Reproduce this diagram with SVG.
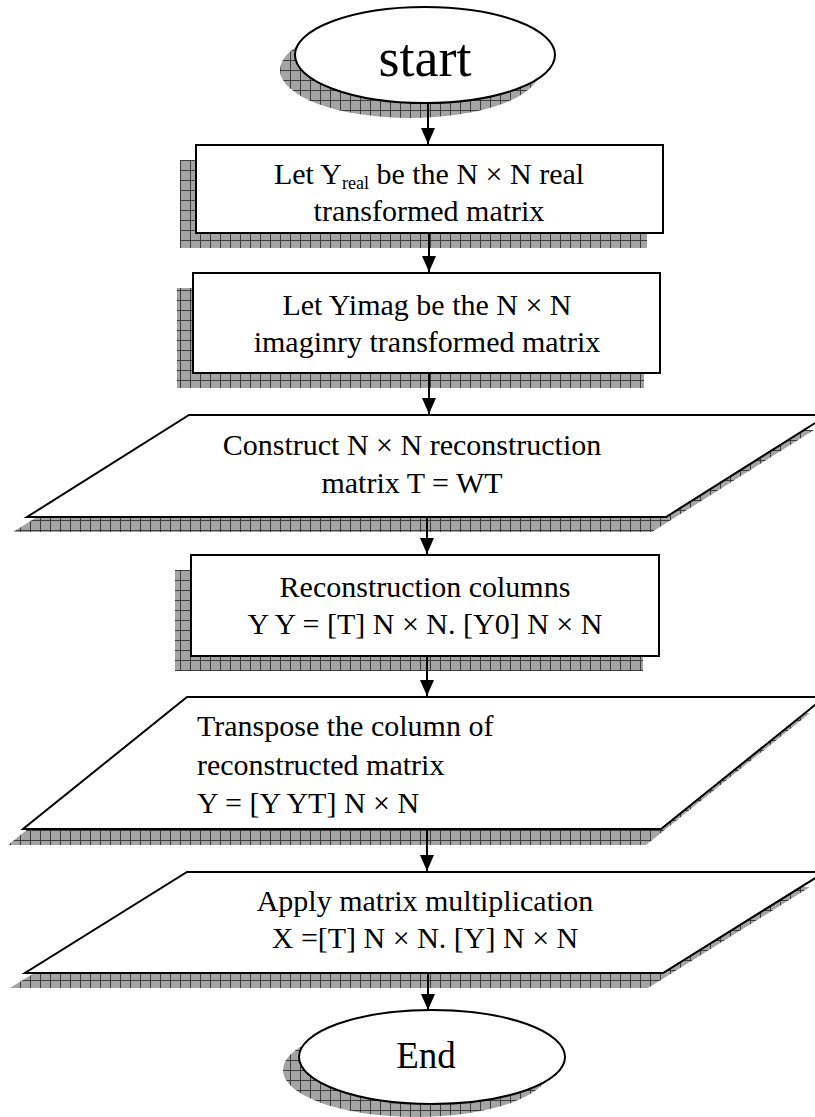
<svg xmlns="http://www.w3.org/2000/svg" width="815" height="1117" viewBox="0 0 815 1117">
<defs>
<pattern id="grid" width="10" height="10" patternUnits="userSpaceOnUse">
<rect width="10" height="10" fill="#a4a4a4"/>
<path d="M0 0.5H10M0.5 0V10" stroke="#3c3c3c" stroke-width="1"/>
</pattern>
<marker id="ah" markerWidth="16" markerHeight="14" refX="16" refY="7" orient="auto" markerUnits="userSpaceOnUse" viewBox="0 0 16 14">
<path d="M0 0L16 7L0 14Z" fill="#000"/>
</marker>
</defs>
<style>
.shadow{fill:url(#grid);stroke:none}
.box{fill:#fff;stroke:#000;stroke-width:2}
.t{font-family:"Liberation Serif","Times New Roman",serif;font-size:30px;fill:#000}
.c{text-anchor:middle}
.conn{stroke:#000;stroke-width:2;fill:none}
</style>
<g id="start">
<ellipse class="shadow" cx="410" cy="70" rx="130" ry="48"/>
<ellipse class="box" cx="425" cy="55" rx="130" ry="48"/>
<text class="t c" x="425" y="76" style="font-size:54px">start</text>
</g>
<g id="n1">
<rect class="shadow" x="180" y="160" width="467" height="88"/>
<rect class="box" x="196" y="145" width="467" height="88"/>
<text class="t c" x="429" y="184">Let Y<tspan font-size="18" dy="5">real</tspan><tspan dy="-5"> be the N × N real</tspan></text>
<text class="t c" x="429" y="221">transformed matrix</text>
</g>
<g id="n2">
<rect class="shadow" x="177" y="288" width="467" height="100"/>
<rect class="box" x="193" y="273" width="467" height="100"/>
<text class="t c" x="427" y="315">Let Yimag be the N × N</text>
<text class="t c" x="427" y="352">imaginry transformed matrix</text>
</g>
<g id="n3">
<polygon class="shadow" points="175,430 814,430 652,532 13,532"/>
<polygon class="box" points="189,415 828,415 666,517 27,517"/>
<text class="t c" x="412" y="455">Construct N × N reconstruction</text>
<text class="t c" x="412" y="493">matrix T = WT</text>
</g>
<g id="n4">
<rect class="shadow" x="175" y="570" width="468" height="101"/>
<rect class="box" x="191" y="555" width="468" height="101"/>
<text class="t c" x="425" y="597">Reconstruction columns</text>
<text class="t c" x="425" y="634">Y Y = [T] N × N. [Y0] N × N</text>
</g>
<g id="n5">
<polygon class="shadow" points="172,713 810,713 646,845 8,845"/>
<polygon class="box" points="187,697 825,697 661,829 23,829"/>
<text class="t" x="197" y="736">Transpose the column of</text>
<text class="t" x="197" y="775">reconstructed matrix</text>
<text class="t" x="197" y="813">Y = [Y YT] N × N</text>
</g>
<g id="n6">
<polygon class="shadow" points="172,887 810,887 648,988 10,988"/>
<polygon class="box" points="187,872 825,872 663,973 25,973"/>
<text class="t c" x="425" y="911">Apply matrix multiplication</text>
<text class="t c" x="425" y="948">X =[T] N × N. [Y] N × N</text>
</g>
<g id="end">
<ellipse class="shadow" cx="416" cy="1070" rx="133" ry="47"/>
<ellipse class="box" cx="432" cy="1057" rx="133" ry="47"/>
<text class="t c" x="426" y="1068" style="font-size:37px">End</text>
</g>
<g id="connectors">
<line class="conn" x1="428" y1="103" x2="428" y2="144" marker-end="url(#ah)"/>
<line class="conn" x1="429" y1="233" x2="429" y2="272" marker-end="url(#ah)"/>
<line class="conn" x1="429" y1="373" x2="429" y2="414" marker-end="url(#ah)"/>
<line class="conn" x1="427" y1="517" x2="427" y2="554" marker-end="url(#ah)"/>
<line class="conn" x1="427" y1="656" x2="427" y2="696" marker-end="url(#ah)"/>
<line class="conn" x1="427" y1="829" x2="427" y2="871" marker-end="url(#ah)"/>
<line class="conn" x1="428" y1="973" x2="428" y2="1010" marker-end="url(#ah)"/>
</g>
</svg>
